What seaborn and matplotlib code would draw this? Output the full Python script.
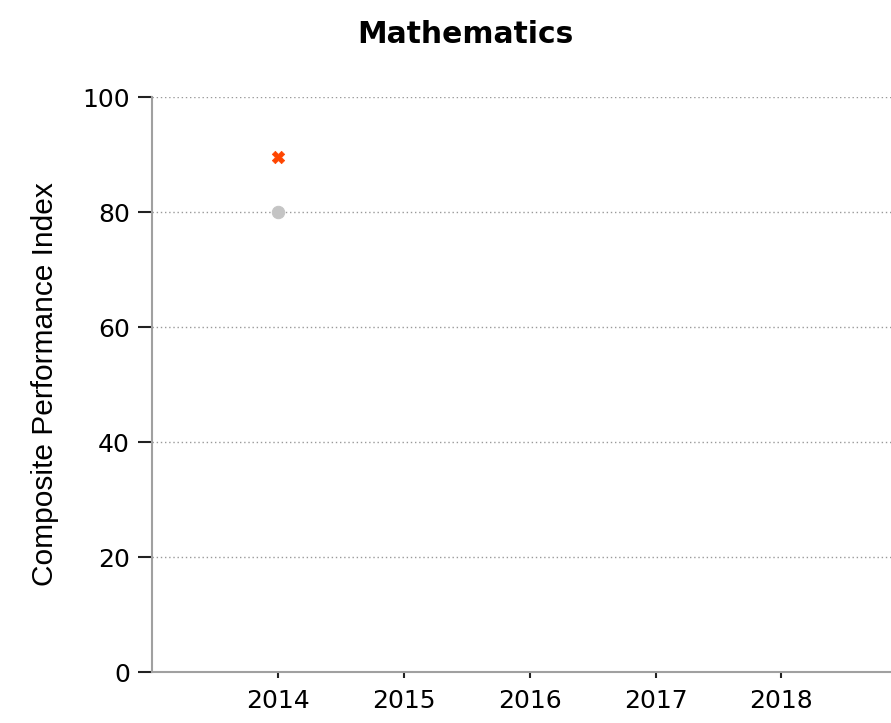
import matplotlib
matplotlib.use("Agg")
import matplotlib.pyplot as plt
import seaborn as sns
import pandas as pd

# data
years = [2014, 2015, 2016, 2017, 2018]
school_year = [2014]
school_cpi = [89.6]
state_year = [2014]
state_cpi = [80.0]

sns.set_style("white")
plt.rcParams['font.family'] = ['DejaVu Sans']

fig = plt.figure(figsize=(8.91, 7.23), dpi=100)
ax = fig.add_axes([0.1706, 0.0705, 0.8294, 0.7953])

state_df = pd.DataFrame({'year': state_year, 'cpi': state_cpi})
school_df = pd.DataFrame({'year': school_year, 'cpi': school_cpi})

sns.scatterplot(data=state_df, x='year', y='cpi', ax=ax, marker='o',
                color='#c4c4c4', s=80, edgecolor='#c4c4c4', zorder=3)
sns.scatterplot(data=school_df, x='year', y='cpi', ax=ax, marker='X',
                color='#ff4500', s=80, edgecolor='#ff4500', linewidth=0.5, zorder=3)

ax.set_xlim(2013.0, 2018.87)
ax.set_ylim(0, 100)
ax.set_xticks(years)
ax.set_yticks([0, 20, 40, 60, 80, 100])
ax.yaxis.grid(True, linestyle=(0, (1, 2)), color='#999999', linewidth=1)
ax.xaxis.grid(False)

for side in ['top', 'right']:
    ax.spines[side].set_visible(False)
for side in ['left', 'bottom']:
    ax.spines[side].set_color('#a0a0a0')
    ax.spines[side].set_linewidth(1.5)

ax.tick_params(axis='y', left=True, length=10, width=1.5, color='#222222',
               labelsize=18, labelcolor='black', pad=6)
ax.tick_params(axis='x', bottom=True, length=4, width=1.5, color='#222222',
               labelsize=18, labelcolor='black', pad=8)
ax.set_xlabel('')
ax.set_ylabel('Composite Performance Index', fontsize=21.5, color='black',
              family='Liberation Sans', labelpad=17)
fig.suptitle('Mathematics', fontsize=21.4, fontweight='bold', color='black',
             x=0.522, y=0.972)

fig.savefig('out.png', dpi=100)
